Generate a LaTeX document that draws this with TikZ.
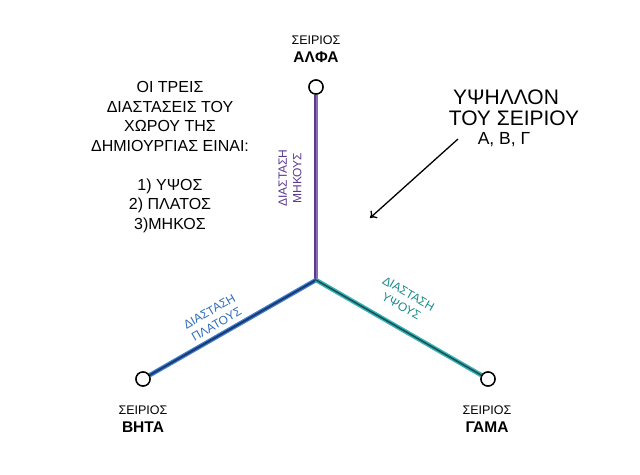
\documentclass[tikz,border=0pt]{standalone}
\usepackage{fontspec}
\setmainfont{Liberation Sans}
\usetikzlibrary{arrows.meta}
\definecolor{purpA}{HTML}{8A6CB8}
\definecolor{purpB}{HTML}{5A3C86}
\definecolor{blueA}{HTML}{3F80D2}
\definecolor{blueB}{HTML}{1C3A72}
\definecolor{tealA}{HTML}{34B5B5}
\definecolor{tealB}{HTML}{1E4F58}
\definecolor{purpT}{HTML}{5B3A8E}
\definecolor{blueT}{HTML}{2F6DB8}
\definecolor{tealT}{HTML}{1C8A8C}
\tikzset{
  endpt/.style={circle, draw=black, line width=1.4pt, fill=white, minimum size=14pt, inner sep=0pt},
  star/.style={font=\fontsize{12.5}{15}\selectfont, align=center, inner sep=0pt},
  starname/.style={font=\fontsize{15.5}{18}\selectfont\bfseries, inner sep=0pt},
  dimlbl/.style={font=\fontsize{12}{14.5}\selectfont, align=center, inner sep=0pt},
  bodytxt/.style={font=\fontsize{16}{19.5}\selectfont, align=center, inner sep=0pt}
}
\begin{document}
\begin{tikzpicture}[x=1pt,y=-1pt]
\useasboundingbox (0,0) rectangle (640,474);
\coordinate (c) at (316,280);
\node[endpt] (t) at (316,87) {};
\node[endpt] (bl) at (143,379) {};
\node[endpt] (br) at (488,379) {};
% lines
\draw[purpA, line width=4.5pt] (c) -- (t);
\draw[purpB, line width=2.2pt] ([xshift=-0.8pt]c) -- ([xshift=-0.8pt]t.south);
\draw[blueA, line width=4.5pt] (c) -- (bl);
\draw[blueB, line width=2pt] (c) -- (bl);
\draw[tealA, line width=4.5pt] (c) -- (br);
\draw[tealB, line width=1.6pt] (c) -- (br);
\node[endpt] at (t) {};
\node[endpt] at (bl) {};
\node[endpt] at (br) {};
% star labels
\node[star] (tl1) at (316,40) {ΣΕΙΡΙΟΣ};
\node[starname] (tl2) at (316,57) {ΑΛΦΑ};
\node[star] (bll1) at (143,410) {ΣΕΙΡΙΟΣ};
\node[starname] (bll2) at (143,427) {ΒΗΤΑ};
\node[star] (brl1) at (487,410) {ΣΕΙΡΙΟΣ};
\node[starname] (brl2) at (487,427) {ΓΑΜΑ};
% dimension labels
\node[dimlbl, text=purpT, rotate=90] (d1) at (290,178) {ΔΙΑΣΤΑΣΗ\\ΜΗΚΟΥΣ};
\node[dimlbl, text=blueT, rotate=29.8] (d2) at (213,318) {ΔΙΑΣΤΑΣΗ\\ΠΛΑΤΟΥΣ};
\node[dimlbl, text=tealT, rotate=-29.8] (d3) at (405,300) {ΔΙΑΣΤΑΣΗ\\ΥΨΟΥΣ};
% left text
\node[bodytxt] (lt) at (170,157) {ΟΙ ΤΡΕΙΣ\\ΔΙΑΣΤΑΣΕΙΣ ΤΟΥ\\ΧΩΡΟΥ ΤΗΣ\\ΔΗΜΙΟΥΡΓΙΑΣ ΕΙΝΑΙ:\\[19.5pt]1) ΥΨΟΣ\\2) ΠΛΑΤΟΣ\\3)ΜΗΚΟΣ};
% right text
\node[font=\fontsize{21}{24}\selectfont, inner sep=0pt] (rt1) at (506,97) {ΥΨΗΛΛΟΝ};
\node[font=\fontsize{21}{24}\selectfont, inner sep=0pt] (rt2) at (514,118) {ΤΟΥ ΣΕΙΡΙΟΥ};
\node[font=\fontsize{17.5}{20}\selectfont, inner sep=0pt] (rt3) at (504,140) {Α, Β, Γ};
% arrow
\coordinate (a1) at (458,139);
\coordinate (a2) at (370,218);
\draw[line width=1.3pt, -{To[length=6pt,width=10pt]}] (a1) -- (a2);
\end{tikzpicture}
\end{document}
